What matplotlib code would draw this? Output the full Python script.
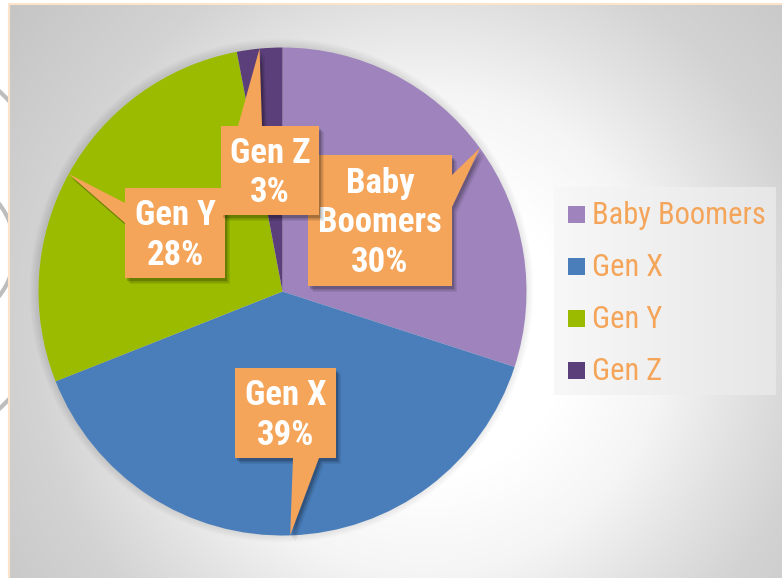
import textwrap
import numpy as np
import matplotlib
matplotlib.use("Agg")
import matplotlib.pyplot as plt
from matplotlib.patches import Polygon, Rectangle, Circle

# data
labels = ["Baby Boomers", "Gen X", "Gen Y", "Gen Z"]
values = [30, 39, 28, 3]
colors = ["#9E83BC", "#4A7EBB", "#9BBB00", "#5B3F7A"]

ORANGE = "#F5A55A"
W, H = 782, 578
NARROW = ["Roboto Condensed", "Liberation Sans", "DejaVu Sans"]

# callout layout in pixels (left, top, width, height), pointer side, base offsets
callouts = {
    "Baby Boomers": ((308, 155, 144, 131), "right", 20, 52),
    "Gen X": ((235, 368, 101, 90), "bottom", 58, 84),
    "Gen Y": ((125, 188, 100, 90), "left", 15, 35),
    "Gen Z": ((221, 126, 98, 89), "top", 17, 41),
}

fig = plt.figure(figsize=(W / 100, H / 100), dpi=100)
ax = fig.add_axes([0, 0, 1, 1])

# background: white margin, gray arcs behind, gradient panel
yy, xx = np.mgrid[0:H, 0:W]
d = np.hypot(xx - 420, yy - 330)
g = np.interp(d, [0, 150, 244, 326, 397, 523, 700],
              [1.0, 1.0, 0.96, 0.886, 0.827, 0.776, 0.76])
bg = np.dstack([g, g, g])
ax.add_patch(Rectangle((0, 0), W, H, color="white", zorder=0))
for cx, cy, r in [(-60, 250, 75), (-150, 250, 218)]:
    ax.add_patch(Circle((cx, H - cy), r, fill=False, ec="#BDBDBD", lw=3, zorder=0.5))
ax.imshow(bg, extent=(9, W, 0, H - 4), origin="upper", zorder=1, interpolation="bilinear")
ax.plot([8.5, 8.5, W], [0, H - 3.5, H - 3.5], color="#FBE3CC", lw=1.5, zorder=1.1)

# pie + soft shadow
cx, cy, R = 282.5, H - 291.5, 244
for k in range(8, 0, -1):
    ax.add_patch(Circle((cx - 1, cy + 1), R + k, color="black", alpha=0.012, lw=0, zorder=1.5))
wedges, _ = ax.pie(values, colors=colors, startangle=90, counterclock=False,
                   radius=R, center=(cx, cy), wedgeprops=dict(linewidth=0))
for w in wedges:
    w.set_zorder(2)


def callout_shape(box, side, b0, b1, tip):
    l, t, bw, bh = box
    r, b = l + bw, t + bh
    if side == "top":
        pts = [(l, t), (l + b0, t), tip, (l + b1, t), (r, t), (r, b), (l, b)]
    elif side == "right":
        pts = [(l, t), (r, t), (r, t + b0), tip, (r, t + b1), (r, b), (l, b)]
    elif side == "bottom":
        pts = [(l, t), (r, t), (r, b), (l + b1, b), tip, (l + b0, b), (l, b)]
    else:
        pts = [(l, t), (r, t), (r, b), (l, b), (l, t + b1), tip, (l, t + b0)]
    return [(x, H - y) for x, y in pts]


z = 3
for w, lab, val in zip(wedges, labels, values):
    box, side, b0, b1 = callouts[lab]
    mid = np.deg2rad((w.theta1 + w.theta2) / 2)
    tx, ty = cx + R * np.cos(mid), cy + R * np.sin(mid)
    pts = callout_shape(box, side, b0, b1, (tx, H - ty))
    for (ox, oy, a) in [(5, 6, 0.08), (3.5, 4.5, 0.12), (2, 3, 0.16)]:
        sh = [(x + ox, y - oy) for x, y in pts]
        ax.add_patch(Polygon(sh, closed=True, color="black", alpha=a, lw=0, zorder=z))
    ax.add_patch(Polygon(pts, closed=True, color=ORANGE, lw=0, zorder=z + 0.1))
    l, t, bw, bh = box
    txt = textwrap.fill(lab, 7) + "\n" + f"{val}%"
    ax.text(l + bw / 2, H - (t + bh / 2) - 2.5, txt, ha="center", va="center",
            color="white", fontsize=25, fontweight="bold", family=NARROW,
            linespacing=1.24, zorder=z + 0.2)
    z += 1

# legend
lx0, ly0, lx1, ly1 = 554, 187, 776, 395
lg = np.linspace(0.97, 0.905, 50)[None, :].repeat(2, axis=0)
ax.imshow(np.dstack([lg, lg, lg]), extent=(lx0, lx1, H - ly1, H - ly0),
          zorder=2.5, aspect="auto", interpolation="bilinear")
for i, (lab, col) in enumerate(zip(labels, colors)):
    yc = 214.5 + i * 52
    ax.add_patch(Rectangle((568, H - yc - 8.5), 17, 17, color=col, lw=0, zorder=2.6))
    ax.text(592, H - yc - 1.5, lab, ha="left", va="center", color=ORANGE,
            fontsize=22, family=NARROW, zorder=2.6)

ax.set_xlim(0, W)
ax.set_ylim(0, H)
ax.set_aspect("equal")
ax.axis("off")
fig.savefig("out.png", dpi=100)
